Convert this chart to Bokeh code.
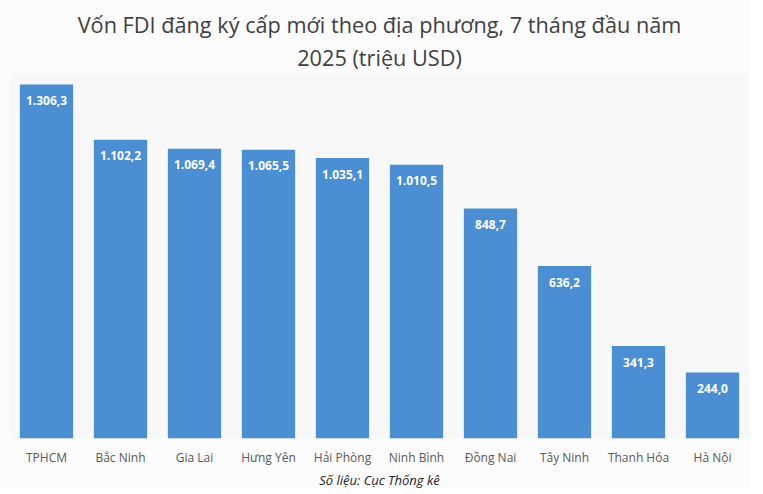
from bokeh.plotting import figure
from bokeh.models import ColumnDataSource, Title, Range1d
from bokeh.core.properties import value
from bokeh.embed import file_html
from bokeh.resources import INLINE

categories = ["TPHCM", "Bắc Ninh", "Gia Lai", "Hưng Yên", "Hải Phòng",
              "Ninh Bình", "Đồng Nai", "Tây Ninh", "Thanh Hóa", "Hà Nội"]
values = [1306.3, 1102.2, 1069.4, 1065.5, 1035.1, 1010.5, 848.7, 636.2, 341.3, 244.0]

def vn(v):
    s = f"{v:,.1f}"
    return s.replace(",", "X").replace(".", ",").replace("X", ".")

labels = [vn(v) for v in values]

src = ColumnDataSource(dict(cat=categories, val=values, lab=labels))

p = figure(frame_width=740, frame_height=365, x_range=categories, y_range=Range1d(0, 1347),
           output_backend="svg", toolbar_location=None,
           min_border_left=9, min_border_right=0, min_border_top=0, min_border_bottom=0)

p.background_fill_color = "#f8f8f8"
p.border_fill_color = "#fcfcfc"
p.outline_line_color = None
p.grid.grid_line_color = None
p.yaxis.visible = False

p.vbar(x="cat", top="val", width=0.72, source=src, fill_color="#4a8ed3", line_color=None)
p.text(x="cat", y="val", text="lab", source=src, text_align="center", text_baseline="middle",
       y_offset=16, text_color="white", text_font_style="bold", text_font_size="12px",
       text_font=value("Open Sans"))

ax = p.xaxis[0]
ax.axis_line_color = None
ax.major_tick_line_color = None
ax.minor_tick_line_color = None
ax.major_label_text_font = "Open Sans"
ax.major_label_text_font_size = "12px"
ax.major_label_text_color = "#595959"
ax.major_label_standoff = 4

p.add_layout(Title(text="Số liệu: Cục Thống kê", align="center", text_font="Open Sans",
                   text_font_style="italic", text_font_size="13px", text_color="#222222",
                   offset=0, standoff=0), "below")

p.add_layout(Title(text="2025 (triệu USD)", align="center", text_font="Open Sans",
                   text_font_style="normal", text_font_size="21.7px", text_color="#404040",
                   standoff=4), "above")
p.add_layout(Title(text="Vốn FDI đăng ký cấp mới theo địa phương, 7 tháng đầu năm", align="center",
                   text_font="Open Sans", text_font_style="normal", text_font_size="21.7px",
                   text_color="#404040", standoff=0), "above")
p.add_layout(Title(text=" ", align="center", text_font_size="4px", standoff=0), "above")

open("out.html", "w").write(file_html(p, INLINE))
